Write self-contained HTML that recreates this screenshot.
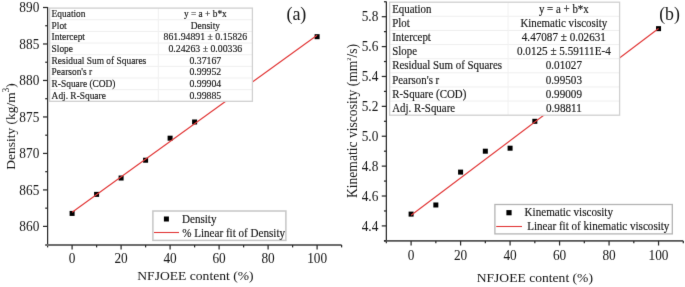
<!DOCTYPE html>
<html><head><meta charset="utf-8"><style>
html,body{margin:0;padding:0;background:#fff;}
body{width:685px;height:287px;overflow:hidden;}
svg{display:block;font-family:"Liberation Serif", serif;}
text{stroke:#1a1a1a;stroke-width:0.16px;}
text.a{stroke-width:0.03px;}
</style></head><body>
<svg width="685" height="287" viewBox="0 0 685 287">
<defs><filter id="soft" filterUnits="userSpaceOnUse" x="0" y="0" width="685" height="287" color-interpolation-filters="sRGB"><feConvolveMatrix order="3" kernelMatrix="0.0052 0.0619 0.0052 0.0619 0.7314 0.0619 0.0052 0.0619 0.0052" divisor="1" edgeMode="duplicate"/></filter></defs>
<g filter="url(#soft)">
<rect width="685" height="287" fill="#fff"/>
<line x1="47.60" y1="7.00" x2="47.60" y2="247.40" stroke="#2b2b2b" stroke-width="1.25"/>
<line x1="45.20" y1="245.00" x2="341.60" y2="245.00" stroke="#6c6c6c" stroke-width="1.9"/>
<line x1="43.00" y1="226.40" x2="47.60" y2="226.40" stroke="#2b2b2b" stroke-width="1.25"/>
<text transform="translate(39.30,231.00) scale(1.0,1.07)" font-size="13.3" text-anchor="end" fill="#1a1a1a" class="a">860</text>
<line x1="43.00" y1="189.92" x2="47.60" y2="189.92" stroke="#2b2b2b" stroke-width="1.25"/>
<text transform="translate(39.30,194.52) scale(1.0,1.07)" font-size="13.3" text-anchor="end" fill="#1a1a1a" class="a">865</text>
<line x1="43.00" y1="153.43" x2="47.60" y2="153.43" stroke="#2b2b2b" stroke-width="1.25"/>
<text transform="translate(39.30,158.03) scale(1.0,1.07)" font-size="13.3" text-anchor="end" fill="#1a1a1a" class="a">870</text>
<line x1="43.00" y1="116.95" x2="47.60" y2="116.95" stroke="#2b2b2b" stroke-width="1.25"/>
<text transform="translate(39.30,121.55) scale(1.0,1.07)" font-size="13.3" text-anchor="end" fill="#1a1a1a" class="a">875</text>
<line x1="43.00" y1="80.47" x2="47.60" y2="80.47" stroke="#2b2b2b" stroke-width="1.25"/>
<text transform="translate(39.30,85.07) scale(1.0,1.07)" font-size="13.3" text-anchor="end" fill="#1a1a1a" class="a">880</text>
<line x1="43.00" y1="43.98" x2="47.60" y2="43.98" stroke="#2b2b2b" stroke-width="1.25"/>
<text transform="translate(39.30,48.58) scale(1.0,1.07)" font-size="13.3" text-anchor="end" fill="#1a1a1a" class="a">885</text>
<line x1="43.00" y1="7.50" x2="47.60" y2="7.50" stroke="#2b2b2b" stroke-width="1.25"/>
<text transform="translate(39.30,12.10) scale(1.0,1.07)" font-size="13.3" text-anchor="end" fill="#1a1a1a" class="a">890</text>
<line x1="45.20" y1="208.16" x2="47.60" y2="208.16" stroke="#2b2b2b" stroke-width="1.25"/>
<line x1="45.20" y1="171.68" x2="47.60" y2="171.68" stroke="#2b2b2b" stroke-width="1.25"/>
<line x1="45.20" y1="135.19" x2="47.60" y2="135.19" stroke="#2b2b2b" stroke-width="1.25"/>
<line x1="45.20" y1="98.71" x2="47.60" y2="98.71" stroke="#2b2b2b" stroke-width="1.25"/>
<line x1="45.20" y1="62.23" x2="47.60" y2="62.23" stroke="#2b2b2b" stroke-width="1.25"/>
<line x1="45.20" y1="25.74" x2="47.60" y2="25.74" stroke="#2b2b2b" stroke-width="1.25"/>
<line x1="72.10" y1="245.00" x2="72.10" y2="249.60" stroke="#2b2b2b" stroke-width="1.25"/>
<text transform="translate(72.10,263.30) scale(1.0,1.07)" font-size="13.3" text-anchor="middle" fill="#1a1a1a" class="a">0</text>
<line x1="121.10" y1="245.00" x2="121.10" y2="249.60" stroke="#2b2b2b" stroke-width="1.25"/>
<text transform="translate(121.10,263.30) scale(1.0,1.07)" font-size="13.3" text-anchor="middle" fill="#1a1a1a" class="a">20</text>
<line x1="170.10" y1="245.00" x2="170.10" y2="249.60" stroke="#2b2b2b" stroke-width="1.25"/>
<text transform="translate(170.10,263.30) scale(1.0,1.07)" font-size="13.3" text-anchor="middle" fill="#1a1a1a" class="a">40</text>
<line x1="219.10" y1="245.00" x2="219.10" y2="249.60" stroke="#2b2b2b" stroke-width="1.25"/>
<text transform="translate(219.10,263.30) scale(1.0,1.07)" font-size="13.3" text-anchor="middle" fill="#1a1a1a" class="a">60</text>
<line x1="268.10" y1="245.00" x2="268.10" y2="249.60" stroke="#2b2b2b" stroke-width="1.25"/>
<text transform="translate(268.10,263.30) scale(1.0,1.07)" font-size="13.3" text-anchor="middle" fill="#1a1a1a" class="a">80</text>
<line x1="317.10" y1="245.00" x2="317.10" y2="249.60" stroke="#2b2b2b" stroke-width="1.25"/>
<text transform="translate(317.10,263.30) scale(1.0,1.07)" font-size="13.3" text-anchor="middle" fill="#1a1a1a" class="a">100</text>
<line x1="96.60" y1="245.00" x2="96.60" y2="247.40" stroke="#2b2b2b" stroke-width="1.25"/>
<line x1="145.60" y1="245.00" x2="145.60" y2="247.40" stroke="#2b2b2b" stroke-width="1.25"/>
<line x1="194.60" y1="245.00" x2="194.60" y2="247.40" stroke="#2b2b2b" stroke-width="1.25"/>
<line x1="243.60" y1="245.00" x2="243.60" y2="247.40" stroke="#2b2b2b" stroke-width="1.25"/>
<line x1="292.60" y1="245.00" x2="292.60" y2="247.40" stroke="#2b2b2b" stroke-width="1.25"/>
<line x1="341.60" y1="245.00" x2="341.60" y2="247.40" stroke="#2b2b2b" stroke-width="1.25"/>
<text transform="translate(195.40,280.20) scale(1.0,0.96)" font-size="13.6" text-anchor="middle" fill="#1a1a1a" class="a">NFJOEE content (%)</text>
<text transform="translate(14.80,126.40) rotate(-90)" class="a" font-size="13.45" text-anchor="middle" fill="#1a1a1a">Density (kg/m<tspan dy="-5.5" font-size="9.5">3</tspan><tspan dy="5.5">)</tspan></text>
<rect x="69.60" y="210.91" width="5" height="5" fill="#000"/>
<rect x="94.10" y="191.87" width="5" height="5" fill="#000"/>
<rect x="118.60" y="175.52" width="5" height="5" fill="#000"/>
<rect x="143.10" y="157.72" width="5" height="5" fill="#000"/>
<rect x="167.60" y="135.68" width="5" height="5" fill="#000"/>
<rect x="192.10" y="119.48" width="5" height="5" fill="#000"/>
<rect x="314.60" y="34.19" width="5" height="5" fill="#000"/>
<line x1="72.10" y1="212.18" x2="317.10" y2="35.14" stroke="#e23a3a" stroke-width="1.2"/>
<rect x="49.6" y="8.1" width="202.8" height="93.2" fill="#fff" stroke="none"/>
<line x1="49.60" y1="19.75" x2="252.40" y2="19.75" stroke="#efefef" stroke-width="1"/>
<line x1="49.60" y1="31.40" x2="252.40" y2="31.40" stroke="#efefef" stroke-width="1"/>
<line x1="49.60" y1="43.05" x2="252.40" y2="43.05" stroke="#efefef" stroke-width="1"/>
<line x1="49.60" y1="54.70" x2="252.40" y2="54.70" stroke="#efefef" stroke-width="1"/>
<line x1="49.60" y1="66.35" x2="252.40" y2="66.35" stroke="#efefef" stroke-width="1"/>
<line x1="49.60" y1="78.00" x2="252.40" y2="78.00" stroke="#efefef" stroke-width="1"/>
<line x1="49.60" y1="89.65" x2="252.40" y2="89.65" stroke="#efefef" stroke-width="1"/>
<line x1="158.30" y1="8.10" x2="158.30" y2="101.30" stroke="#f1f1f1" stroke-width="1"/>
<rect x="49.6" y="8.1" width="202.8" height="93.2" fill="none" stroke="#d0d0d0" stroke-width="1.3"/>
<text transform="translate(51.60,17.05) scale(1.0,1.05)" font-size="9.4" text-anchor="start" fill="#1a1a1a" >Equation</text>
<text transform="translate(205.35,17.05) scale(1.0,1.05)" font-size="9.4" text-anchor="middle" fill="#1a1a1a" >y = a + b*x</text>
<text transform="translate(51.60,28.70) scale(1.0,1.05)" font-size="9.4" text-anchor="start" fill="#1a1a1a" >Plot</text>
<text transform="translate(205.35,28.70) scale(1.0,1.05)" font-size="9.4" text-anchor="middle" fill="#1a1a1a" >Density</text>
<text transform="translate(51.60,40.35) scale(1.0,1.05)" font-size="9.4" text-anchor="start" fill="#1a1a1a" >Intercept</text>
<text transform="translate(205.35,40.35) scale(1.0,1.02)" font-size="9.8" text-anchor="middle" fill="#1a1a1a" >861.94891 ± 0.15826</text>
<text transform="translate(51.60,52.00) scale(1.0,1.05)" font-size="9.4" text-anchor="start" fill="#1a1a1a" >Slope</text>
<text transform="translate(205.35,52.00) scale(1.0,1.02)" font-size="9.8" text-anchor="middle" fill="#1a1a1a" >0.24263 ± 0.00336</text>
<text transform="translate(51.60,63.65) scale(1.0,1.05)" font-size="9.4" text-anchor="start" fill="#1a1a1a" >Residual Sum of Squares</text>
<text transform="translate(205.35,63.65) scale(1.0,1.02)" font-size="9.8" text-anchor="middle" fill="#1a1a1a" >0.37167</text>
<text transform="translate(51.60,75.30) scale(1.0,1.05)" font-size="9.4" text-anchor="start" fill="#1a1a1a" >Pearson's r</text>
<text transform="translate(205.35,75.30) scale(1.0,1.02)" font-size="9.8" text-anchor="middle" fill="#1a1a1a" >0.99952</text>
<text transform="translate(51.60,86.95) scale(1.0,1.05)" font-size="9.4" text-anchor="start" fill="#1a1a1a" >R-Square (COD)</text>
<text transform="translate(205.35,86.95) scale(1.0,1.02)" font-size="9.8" text-anchor="middle" fill="#1a1a1a" >0.99904</text>
<text transform="translate(51.60,98.60) scale(1.0,1.05)" font-size="9.4" text-anchor="start" fill="#1a1a1a" >Adj. R-Square</text>
<text transform="translate(205.35,98.60) scale(1.0,1.02)" font-size="9.8" text-anchor="middle" fill="#1a1a1a" >0.99885</text>
<text x="286.40" y="20.20" font-size="18" text-anchor="start" fill="#1a1a1a" class="a">(a)</text>
<rect x="152.9" y="211.0" width="132.99999999999997" height="29.400000000000006" fill="#fff" stroke="#c6c6c6" stroke-width="1.5"/>
<rect x="163.90" y="216.50" width="5" height="5" fill="#000"/>
<text transform="translate(182.00,223.00) scale(1.0,1.06)" font-size="11.1" text-anchor="start" fill="#1a1a1a" >Density</text>
<line x1="154.00" y1="232.50" x2="179.00" y2="232.50" stroke="#e23a3a" stroke-width="1.1"/>
<text transform="translate(182.20,236.80) scale(1.0,1.06)" font-size="11.1" text-anchor="start" fill="#1a1a1a" >% Linear fit of Density</text>
<line x1="386.35" y1="1.50" x2="386.35" y2="243.30" stroke="#2b2b2b" stroke-width="1.25"/>
<line x1="383.95" y1="240.90" x2="683.30" y2="240.90" stroke="#555555" stroke-width="1.6"/>
<line x1="381.75" y1="225.90" x2="386.35" y2="225.90" stroke="#2b2b2b" stroke-width="1.25"/>
<text transform="translate(378.30,230.50) scale(1.0,1.07)" font-size="13.3" text-anchor="end" fill="#1a1a1a" class="a">4.4</text>
<line x1="381.75" y1="196.01" x2="386.35" y2="196.01" stroke="#2b2b2b" stroke-width="1.25"/>
<text transform="translate(378.30,200.61) scale(1.0,1.07)" font-size="13.3" text-anchor="end" fill="#1a1a1a" class="a">4.6</text>
<line x1="381.75" y1="166.13" x2="386.35" y2="166.13" stroke="#2b2b2b" stroke-width="1.25"/>
<text transform="translate(378.30,170.73) scale(1.0,1.07)" font-size="13.3" text-anchor="end" fill="#1a1a1a" class="a">4.8</text>
<line x1="381.75" y1="136.24" x2="386.35" y2="136.24" stroke="#2b2b2b" stroke-width="1.25"/>
<text transform="translate(378.30,140.84) scale(1.0,1.07)" font-size="13.3" text-anchor="end" fill="#1a1a1a" class="a">5.0</text>
<line x1="381.75" y1="106.36" x2="386.35" y2="106.36" stroke="#2b2b2b" stroke-width="1.25"/>
<text transform="translate(378.30,110.96) scale(1.0,1.07)" font-size="13.3" text-anchor="end" fill="#1a1a1a" class="a">5.2</text>
<line x1="381.75" y1="76.47" x2="386.35" y2="76.47" stroke="#2b2b2b" stroke-width="1.25"/>
<text transform="translate(378.30,81.07) scale(1.0,1.07)" font-size="13.3" text-anchor="end" fill="#1a1a1a" class="a">5.4</text>
<line x1="381.75" y1="46.59" x2="386.35" y2="46.59" stroke="#2b2b2b" stroke-width="1.25"/>
<text transform="translate(378.30,51.19) scale(1.0,1.07)" font-size="13.3" text-anchor="end" fill="#1a1a1a" class="a">5.6</text>
<line x1="381.75" y1="16.70" x2="386.35" y2="16.70" stroke="#2b2b2b" stroke-width="1.25"/>
<text transform="translate(378.30,21.30) scale(1.0,1.07)" font-size="13.3" text-anchor="end" fill="#1a1a1a" class="a">5.8</text>
<line x1="383.95" y1="240.84" x2="386.35" y2="240.84" stroke="#2b2b2b" stroke-width="1.25"/>
<line x1="383.95" y1="210.96" x2="386.35" y2="210.96" stroke="#2b2b2b" stroke-width="1.25"/>
<line x1="383.95" y1="181.07" x2="386.35" y2="181.07" stroke="#2b2b2b" stroke-width="1.25"/>
<line x1="383.95" y1="151.19" x2="386.35" y2="151.19" stroke="#2b2b2b" stroke-width="1.25"/>
<line x1="383.95" y1="121.30" x2="386.35" y2="121.30" stroke="#2b2b2b" stroke-width="1.25"/>
<line x1="383.95" y1="91.41" x2="386.35" y2="91.41" stroke="#2b2b2b" stroke-width="1.25"/>
<line x1="383.95" y1="61.53" x2="386.35" y2="61.53" stroke="#2b2b2b" stroke-width="1.25"/>
<line x1="383.95" y1="31.64" x2="386.35" y2="31.64" stroke="#2b2b2b" stroke-width="1.25"/>
<line x1="383.95" y1="1.76" x2="386.35" y2="1.76" stroke="#2b2b2b" stroke-width="1.25"/>
<line x1="411.10" y1="240.90" x2="411.10" y2="245.50" stroke="#2b2b2b" stroke-width="1.25"/>
<text transform="translate(411.10,259.50) scale(1.0,1.07)" font-size="13.3" text-anchor="middle" fill="#1a1a1a" class="a">0</text>
<line x1="460.59" y1="240.90" x2="460.59" y2="245.50" stroke="#2b2b2b" stroke-width="1.25"/>
<text transform="translate(460.59,259.50) scale(1.0,1.07)" font-size="13.3" text-anchor="middle" fill="#1a1a1a" class="a">20</text>
<line x1="510.08" y1="240.90" x2="510.08" y2="245.50" stroke="#2b2b2b" stroke-width="1.25"/>
<text transform="translate(510.08,259.50) scale(1.0,1.07)" font-size="13.3" text-anchor="middle" fill="#1a1a1a" class="a">40</text>
<line x1="559.57" y1="240.90" x2="559.57" y2="245.50" stroke="#2b2b2b" stroke-width="1.25"/>
<text transform="translate(559.57,259.50) scale(1.0,1.07)" font-size="13.3" text-anchor="middle" fill="#1a1a1a" class="a">60</text>
<line x1="609.06" y1="240.90" x2="609.06" y2="245.50" stroke="#2b2b2b" stroke-width="1.25"/>
<text transform="translate(609.06,259.50) scale(1.0,1.07)" font-size="13.3" text-anchor="middle" fill="#1a1a1a" class="a">80</text>
<line x1="658.55" y1="240.90" x2="658.55" y2="245.50" stroke="#2b2b2b" stroke-width="1.25"/>
<text transform="translate(658.55,259.50) scale(1.0,1.07)" font-size="13.3" text-anchor="middle" fill="#1a1a1a" class="a">100</text>
<line x1="435.84" y1="240.90" x2="435.84" y2="243.30" stroke="#2b2b2b" stroke-width="1.25"/>
<line x1="485.33" y1="240.90" x2="485.33" y2="243.30" stroke="#2b2b2b" stroke-width="1.25"/>
<line x1="534.83" y1="240.90" x2="534.83" y2="243.30" stroke="#2b2b2b" stroke-width="1.25"/>
<line x1="584.32" y1="240.90" x2="584.32" y2="243.30" stroke="#2b2b2b" stroke-width="1.25"/>
<line x1="633.81" y1="240.90" x2="633.81" y2="243.30" stroke="#2b2b2b" stroke-width="1.25"/>
<line x1="683.30" y1="240.90" x2="683.30" y2="243.30" stroke="#2b2b2b" stroke-width="1.25"/>
<text transform="translate(534.80,281.70) scale(1.0,0.96)" font-size="13.6" text-anchor="middle" fill="#1a1a1a" class="a">NFJOEE content (%)</text>
<text transform="translate(356.50,121.00) rotate(-90)" class="a" font-size="13.6" text-anchor="middle" fill="#1a1a1a">Kinematic viscosity (mm<tspan dy="-6.0" font-size="6.2">2</tspan><tspan dy="6.0">/s)</tspan></text>
<rect x="408.60" y="211.60" width="5" height="5" fill="#000"/>
<rect x="433.34" y="202.48" width="5" height="5" fill="#000"/>
<rect x="458.09" y="169.61" width="5" height="5" fill="#000"/>
<rect x="482.83" y="148.69" width="5" height="5" fill="#000"/>
<rect x="507.58" y="145.70" width="5" height="5" fill="#000"/>
<rect x="532.33" y="118.80" width="5" height="5" fill="#000"/>
<rect x="656.05" y="26.15" width="5" height="5" fill="#000"/>
<line x1="411.10" y1="215.31" x2="658.55" y2="28.52" stroke="#e23a3a" stroke-width="1.2"/>
<rect x="389.6" y="2.2" width="230.0" height="113.0" fill="#fff" stroke="none"/>
<line x1="389.60" y1="16.32" x2="619.60" y2="16.32" stroke="#efefef" stroke-width="1"/>
<line x1="389.60" y1="30.45" x2="619.60" y2="30.45" stroke="#efefef" stroke-width="1"/>
<line x1="389.60" y1="44.58" x2="619.60" y2="44.58" stroke="#efefef" stroke-width="1"/>
<line x1="389.60" y1="58.70" x2="619.60" y2="58.70" stroke="#efefef" stroke-width="1"/>
<line x1="389.60" y1="72.83" x2="619.60" y2="72.83" stroke="#efefef" stroke-width="1"/>
<line x1="389.60" y1="86.95" x2="619.60" y2="86.95" stroke="#efefef" stroke-width="1"/>
<line x1="389.60" y1="101.08" x2="619.60" y2="101.08" stroke="#efefef" stroke-width="1"/>
<line x1="508.10" y1="2.20" x2="508.10" y2="115.20" stroke="#f1f1f1" stroke-width="1"/>
<rect x="389.6" y="2.2" width="230.0" height="113.0" fill="none" stroke="#d0d0d0" stroke-width="1.3"/>
<text transform="translate(392.20,12.92) scale(1.0,1.15)" font-size="10.9" text-anchor="start" fill="#1a1a1a" >Equation</text>
<text transform="translate(563.85,12.92) scale(1.0,1.15)" font-size="10.9" text-anchor="middle" fill="#1a1a1a" >y = a + b*x</text>
<text transform="translate(392.20,27.05) scale(1.0,1.15)" font-size="10.9" text-anchor="start" fill="#1a1a1a" >Plot</text>
<text transform="translate(563.85,27.05) scale(1.0,1.15)" font-size="10.9" text-anchor="middle" fill="#1a1a1a" >Kinematic viscosity</text>
<text transform="translate(392.20,41.18) scale(1.0,1.15)" font-size="10.9" text-anchor="start" fill="#1a1a1a" >Intercept</text>
<text transform="translate(563.85,41.18) scale(1.0,1.12)" font-size="11.15" text-anchor="middle" fill="#1a1a1a" >4.47087 ± 0.02631</text>
<text transform="translate(392.20,55.30) scale(1.0,1.15)" font-size="10.9" text-anchor="start" fill="#1a1a1a" >Slope</text>
<text transform="translate(563.85,55.30) scale(1.0,1.12)" font-size="11.15" text-anchor="middle" fill="#1a1a1a" >0.0125 ± 5.59111E-4</text>
<text transform="translate(392.20,69.42) scale(1.0,1.15)" font-size="10.9" text-anchor="start" fill="#1a1a1a" >Residual Sum of Squares</text>
<text transform="translate(563.85,69.42) scale(1.0,1.12)" font-size="11.15" text-anchor="middle" fill="#1a1a1a" >0.01027</text>
<text transform="translate(392.20,83.55) scale(1.0,1.15)" font-size="10.9" text-anchor="start" fill="#1a1a1a" >Pearson's r</text>
<text transform="translate(563.85,83.55) scale(1.0,1.12)" font-size="11.15" text-anchor="middle" fill="#1a1a1a" >0.99503</text>
<text transform="translate(392.20,97.67) scale(1.0,1.15)" font-size="10.9" text-anchor="start" fill="#1a1a1a" >R-Square (COD)</text>
<text transform="translate(563.85,97.67) scale(1.0,1.12)" font-size="11.15" text-anchor="middle" fill="#1a1a1a" >0.99009</text>
<text transform="translate(392.20,111.80) scale(1.0,1.15)" font-size="10.9" text-anchor="start" fill="#1a1a1a" >Adj. R-Square</text>
<text transform="translate(563.85,111.80) scale(1.0,1.12)" font-size="11.15" text-anchor="middle" fill="#1a1a1a" >0.98811</text>
<text x="659.20" y="19.60" font-size="17.8" text-anchor="start" fill="#1a1a1a" class="a">(b)</text>
<rect x="494.9" y="204.5" width="177.39999999999998" height="29.400000000000006" fill="#fff" stroke="#b4b4b4" stroke-width="1.3"/>
<rect x="506.40" y="210.10" width="5.2" height="5.2" fill="#000"/>
<text transform="translate(524.60,216.30) scale(1.0,1.06)" font-size="11.1" text-anchor="start" fill="#1a1a1a" >Kinematic viscosity</text>
<line x1="496.20" y1="226.50" x2="522.00" y2="226.50" stroke="#e23a3a" stroke-width="1.1"/>
<text transform="translate(527.20,230.00) scale(1.0,1.06)" font-size="11.1" text-anchor="start" fill="#1a1a1a" >Linear fit of kinematic viscosity</text>
</g>
</svg>
</body></html>
